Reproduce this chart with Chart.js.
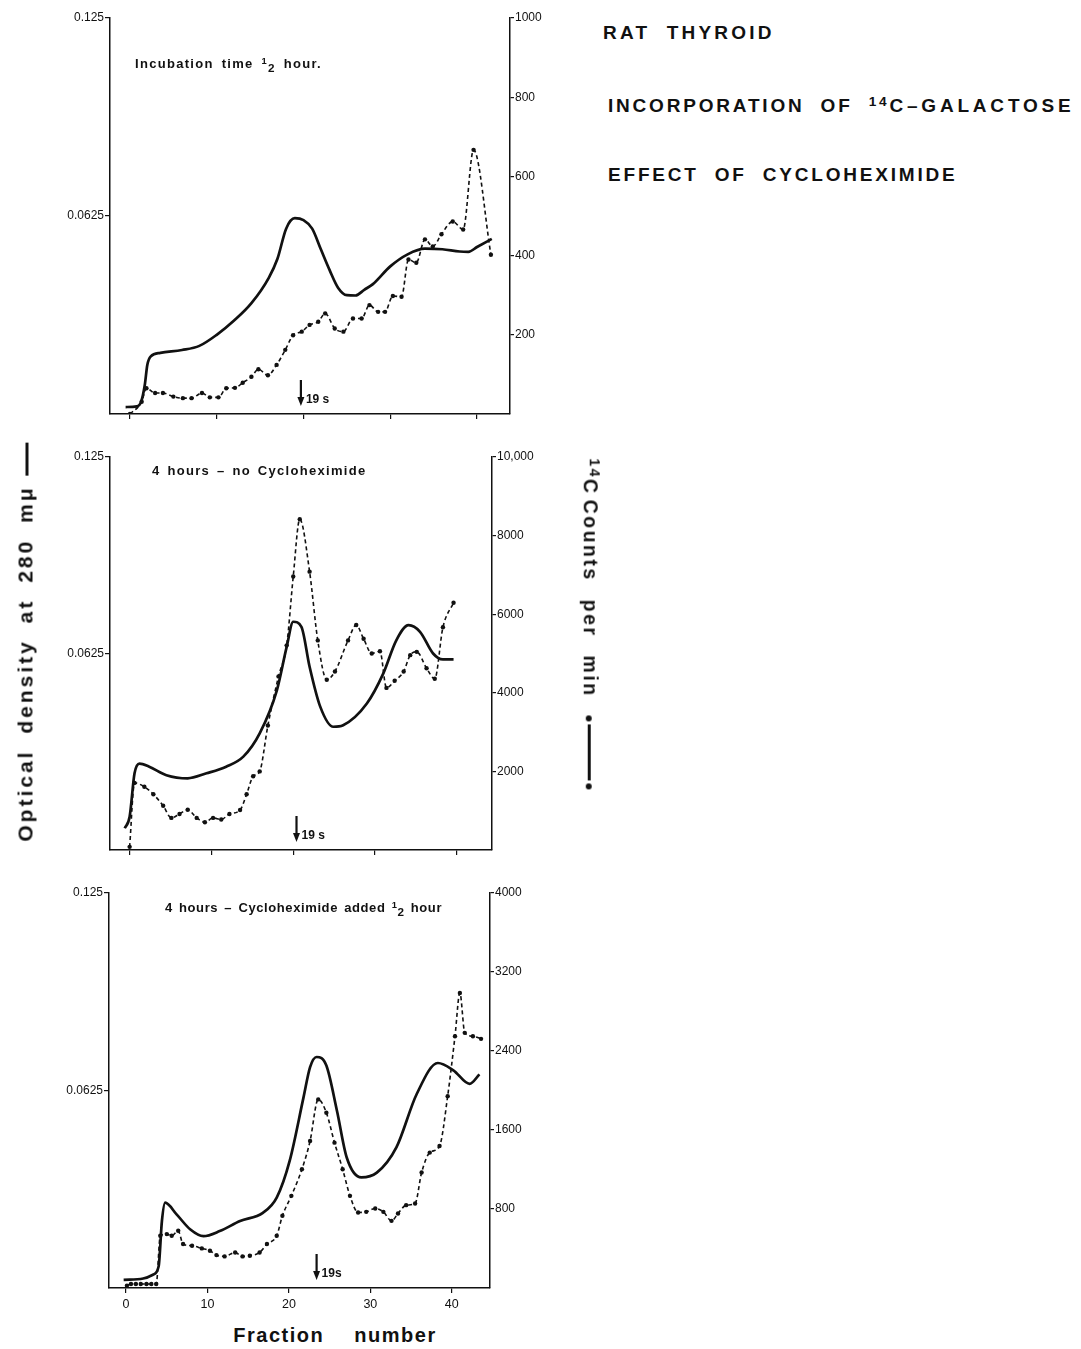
<!DOCTYPE html>
<html>
<head>
<meta charset="utf-8">
<script src="https://cdn.jsdelivr.net/npm/chart.js@4.4.0/dist/chart.umd.min.js"></script>
<style>
  body { margin: 0; background: #fff; width: 1081px; height: 1349px; position: relative; overflow: hidden;
         font-family: "Liberation Sans", Arial, sans-serif; color: #111; }
  canvas { position: absolute; left: 0; }
  .t { position: absolute; white-space: pre; font-weight: bold; line-height: 1; }
  .t sup { font-size: 0.72em; vertical-align: 0.45em; line-height: 0; }
  .t sub { font-size: 0.9em; vertical-align: -0.3em; line-height: 0; }
  .head { font-size: 19px; letter-spacing: 2.8px; word-spacing: 8px; }
  .note { font-size: 13px; letter-spacing: 1.2px; }
  .bar { display: inline-block; width: 33px; height: 3px; background: #111; vertical-align: middle; margin-left: 10px; }
  .dot { display: inline-block; width: 6px; height: 6px; border-radius: 3px; background: #111; vertical-align: middle; }
  .seg { display: inline-block; width: 56px; height: 3px; background: #111; vertical-align: middle; margin: 0 3px; }
</style>
</head>
<body>
<canvas id="p1" width="600" height="426" style="top:8px"></canvas>
<canvas id="p2" width="600" height="423" style="top:447px"></canvas>
<canvas id="p3" width="600" height="439" style="top:883px"></canvas>

<div class="t head" style="left:603px; top:23px; letter-spacing:3.2px">RAT THYROID</div>
<div class="t head" style="left:608px; top:96px">INCORPORATION OF <sup>14</sup><span style="letter-spacing:3.8px">C–GALACTOSE</span></div>
<div class="t head" style="left:608px; top:165px">EFFECT OF CYCLOHEXIMIDE</div>

<div class="t note" style="left:135px; top:57px; letter-spacing:1.3px; word-spacing:3px">Incubation time <sup>1</sup><sub>2</sub> hour.</div>
<div class="t note" style="left:152px; top:464px; letter-spacing:1.3px; word-spacing:2px">4 hours – no Cycloheximide</div>
<div class="t note" style="left:165px; top:901px; letter-spacing:0.6px; word-spacing:2px">4 hours – Cycloheximide added <sup>1</sup><sub>2</sub> hour</div>

<div class="t" style="left:25px; top:642px; font-size:21px; letter-spacing:3px; word-spacing:7px; transform:translate(-50%,-50%) rotate(-90deg)">Optical density at 280 mμ<span class="bar"></span></div>
<div class="t" style="left:590px; top:624px; font-size:19.5px; letter-spacing:2.5px; word-spacing:10px; transform:translate(-50%,-50%) rotate(90deg)"><sup>14</sup>C<span style="margin-left:4px">Counts</span> per min <span class="dot"></span><span class="seg"></span><span class="dot"></span></div>

<div class="t" style="left:335px; top:1325px; font-size:20px; letter-spacing:1.5px; word-spacing:8px; transform:translateX(-50%)">Fraction  number</div>

<script>
// fractions (x) and optical density (solid line), panel 1: 1/2 hour
const od1X = [-0.5, 0.8, 1.3, 1.7, 2.0, 2.4, 3.5, 6, 8, 10, 12, 14, 16, 17, 18, 19, 20, 21, 22, 23, 24, 25, 26, 27, 28, 30, 32, 34, 36, 38, 39, 40, 41.7];
const od1Y = [0.0022, 0.0024, 0.004, 0.009, 0.0155, 0.0182, 0.0193, 0.0202, 0.0215, 0.025, 0.0295, 0.035, 0.043, 0.049, 0.0585, 0.0618, 0.0612, 0.0585, 0.052, 0.0455, 0.0398, 0.0375, 0.0374, 0.0392, 0.041, 0.0466, 0.0504, 0.0522, 0.052, 0.0513, 0.0512, 0.0527, 0.0553];
// 14C counts per min (dotted line), panel 1
const c1X = [0, 1.35, 1.9, 2.9, 3.8, 5, 6.1, 7.1, 8.3, 9.2, 10.2, 11.1, 12.1, 13, 14, 14.8, 15.9, 16.9, 17.9, 18.8, 19.8, 20.7, 21.7, 22.5, 23.6, 24.6, 25.7, 26.7, 27.6, 28.6, 29.4, 30.3, 31.3, 32.1, 33, 34, 34.9, 35.9, 37.2, 38.4, 39.6, 41.6];
const c1Y = [0, 31, 65, 53, 53, 44, 40, 40, 53, 42, 42, 65, 66, 79, 94, 113, 98, 124, 162, 199, 208, 225, 233, 254, 216, 208, 241, 241, 275, 258, 258, 298, 296, 390, 382, 441, 423, 454, 486, 466, 667, 402];

// panel 2: 4 hours, no cycloheximide
const od2X = [-0.6, 0, 0.6, 1.2, 2.4, 4.5, 7.1, 9.4, 11.8, 13.9, 15.9, 18, 19.2, 20, 21, 22, 23.3, 24.9, 26.1, 29, 31, 32.6, 34.1, 35.5, 37.1, 38.3, 39.6];
const od2Y = [0.0069, 0.0106, 0.0244, 0.0275, 0.0265, 0.0238, 0.0228, 0.0244, 0.0265, 0.0297, 0.0371, 0.0508, 0.0646, 0.0726, 0.071, 0.0583, 0.0456, 0.0392, 0.0397, 0.0466, 0.0561, 0.0667, 0.0715, 0.0694, 0.0625, 0.0606, 0.0606];
const c2X = [0, 0.6, 1.8, 2.9, 4.1, 5.1, 6.1, 7.1, 8.2, 9.2, 10.2, 11.2, 12.2, 13.5, 14.3, 15.1, 15.9, 16.9, 18.2, 19.2, 20, 20.8, 22, 23, 24.1, 25.1, 26.7, 27.7, 28.6, 29.6, 30.6, 31.4, 32.4, 33.5, 34.3, 35.1, 36.3, 37.3, 38.3, 39.6];
const c2Y = [80, 1708, 1608, 1417, 1125, 817, 917, 1025, 817, 708, 817, 775, 917, 1017, 1417, 1875, 2000, 3167, 4417, 5208, 6958, 8417, 7083, 5333, 4333, 4542, 5333, 5725, 5375, 5000, 5058, 4125, 4308, 4542, 4958, 5042, 4625, 4358, 5667, 6292];

// panel 3: 4 hours, cycloheximide added 1/2 hour
const od3X = [-0.3, 2.1, 3.3, 4.0, 4.4, 4.8, 6.2, 7.9, 9.5, 11.5, 14, 16.8, 18.5, 20.1, 21.8, 22.6, 23.4, 24.6, 25.9, 27.1, 28.9, 30.8, 33.2, 35.7, 38.3, 40.2, 42.2, 43.4];
const od3Y = [0.0026, 0.003, 0.0042, 0.0069, 0.0212, 0.027, 0.0233, 0.0185, 0.0164, 0.018, 0.0212, 0.0238, 0.0286, 0.0403, 0.0604, 0.0699, 0.0731, 0.0704, 0.0561, 0.0413, 0.035, 0.0365, 0.0445, 0.0614, 0.0712, 0.0689, 0.0646, 0.0676];
const c3X = [0.1, 0.6, 1.2, 1.8, 2.5, 3.1, 3.7, 4.2, 5, 5.6, 6.4, 7, 8.1, 9.3, 10.3, 11.1, 12.1, 13.4, 14.3, 15.2, 16.4, 17.3, 18.5, 19.2, 20.3, 21.6, 22.6, 23.6, 24.6, 25.6, 26.6, 27.5, 28.5, 29.5, 30.6, 31.6, 32.6, 33.4, 34.4, 35.5, 36.3, 37.3, 38.5, 39.5, 40.4, 41, 41.6, 42.6, 43.6];
const c3Y = [24, 40, 40, 40, 40, 40, 40, 529, 546, 529, 579, 445, 428, 401, 377, 333, 320, 360, 320, 327, 360, 445, 529, 731, 933, 1203, 1489, 1910, 1775, 1472, 1203, 933, 765, 771, 805, 771, 680, 754, 839, 856, 1169, 1371, 1438, 1943, 2550, 2988, 2584, 2550, 2523];

// axis ticks
const xTicks = [0, 10, 20, 30, 40];
const odTicks = [0.0625, 0.125];
const counts1Ticks = [200, 400, 600, 800, 1000];
const counts2Ticks = [2000, 4000, 6000, 8000, 10000];
const counts3Ticks = [800, 1600, 2400, 3200, 4000];
// where the "19 s" marker sits on each panel
const arrowAt = [19.7, 20.4, 23.4];
const arrowText = ["19 s", "19 s", "19s"];

const tickFont = { family: "'Liberation Sans', Arial, sans-serif", size: 12 };
const ink = "#111";

const arrowPlugin = {
  id: "marker19s",
  afterDatasetsDraw(chart, args, opts) {
    const { ctx, chartArea, scales } = chart;
    const x = scales.x.getPixelForValue(opts.at);
    const top = chartArea.bottom - 34, tip = chartArea.bottom - 8;
    ctx.save();
    ctx.strokeStyle = ink; ctx.fillStyle = ink; ctx.lineWidth = 2.2;
    ctx.beginPath(); ctx.moveTo(x, top); ctx.lineTo(x, tip - 6); ctx.stroke();
    ctx.beginPath(); ctx.moveTo(x - 3.5, tip - 9); ctx.lineTo(x + 3.5, tip - 9); ctx.lineTo(x, tip); ctx.closePath(); ctx.fill();
    ctx.font = "bold 12px 'Liberation Sans', Arial, sans-serif";
    ctx.textBaseline = "middle";
    ctx.fillText(opts.text, x + 5, tip - 6);
    ctx.restore();
  }
};

function pts(xs, ys) { return xs.map((x, i) => ({ x: x, y: ys[i] })); }

function panel(id, odX, odY, cX, cY, countTicks, countMax, area, xRange, showXLabels, arrowIdx) {
  const canvas = document.getElementById(id);
  const W = canvas.width, H = canvas.height;
  const xh = H - 10 - (area.b - area.t);
  const fixTicks = vals => scale => { scale.ticks = vals.map(v => ({ value: v })); };
  const grid = { display: true, drawOnChartArea: false, drawTicks: true, tickLength: 5, color: ink, lineWidth: 1.2 };
  new Chart(canvas, {
    type: "line",
    data: {
      datasets: [
        { label: "Optical density", data: pts(odX, odY), yAxisID: "yL", borderColor: ink, borderWidth: 2.7,
          pointRadius: 0, cubicInterpolationMode: "monotone", fill: false },
        { label: "14C counts per min", data: pts(cX, cY), yAxisID: "yR", borderColor: ink, borderWidth: 1.6,
          borderDash: [4, 3], pointRadius: 2.2, pointBackgroundColor: ink, pointBorderWidth: 0,
          cubicInterpolationMode: "monotone", fill: false }
      ]
    },
    options: {
      responsive: false, animation: false, devicePixelRatio: 1,
      layout: { padding: { top: 10, left: 0, right: 0, bottom: 0 } },
      plugins: { legend: { display: false }, tooltip: { enabled: false },
                 marker19s: { at: arrowAt[arrowIdx], text: arrowText[arrowIdx] } },
      scales: {
        x: { type: "linear", min: xRange[0], max: xRange[1],
             afterBuildTicks: fixTicks(xTicks), afterFit: s => { s.height = xh; },
             grid: grid, border: { display: true, color: ink, width: 1.5 },
             ticks: { display: true, color: ink, font: { ...tickFont, size: 12.5 }, padding: 4,
                      callback: v => showXLabels ? String(v) : "" } },
        yL: { type: "linear", position: "left", min: 0, max: 0.125,
              afterBuildTicks: fixTicks(odTicks), afterFit: s => { s.width = area.l; },
              grid: grid, border: { display: true, color: ink, width: 1.5 },
              ticks: { color: ink, font: tickFont, padding: 1, callback: v => String(v) } },
        yR: { type: "linear", position: "right", min: 0, max: countMax,
              afterBuildTicks: fixTicks(countTicks), afterFit: s => { s.width = W - area.r; },
              grid: { ...grid, tickLength: 4 }, border: { display: true, color: ink, width: 1.5 },
              ticks: { color: ink, font: tickFont, padding: 1,
                       callback: v => v >= 10000 ? v.toLocaleString("en-US") : String(v) } }
      }
    },
    plugins: [arrowPlugin]
  });
}

panel("p1", od1X, od1Y, c1X, c1Y, counts1Ticks, 1000, { l: 110, r: 510, t: 18, b: 414 }, [-2.3, 43.8], false, 0);
panel("p2", od2X, od2Y, c2X, c2Y, counts2Ticks, 10000, { l: 110, r: 492, t: 457, b: 850 }, [-2.4, 44.3], false, 1);
panel("p3", od3X, od3Y, c3X, c3Y, counts3Ticks, 4000, { l: 109, r: 490, t: 893, b: 1288 }, [-2.1, 44.7], true, 2);
</script>
</body>
</html>
